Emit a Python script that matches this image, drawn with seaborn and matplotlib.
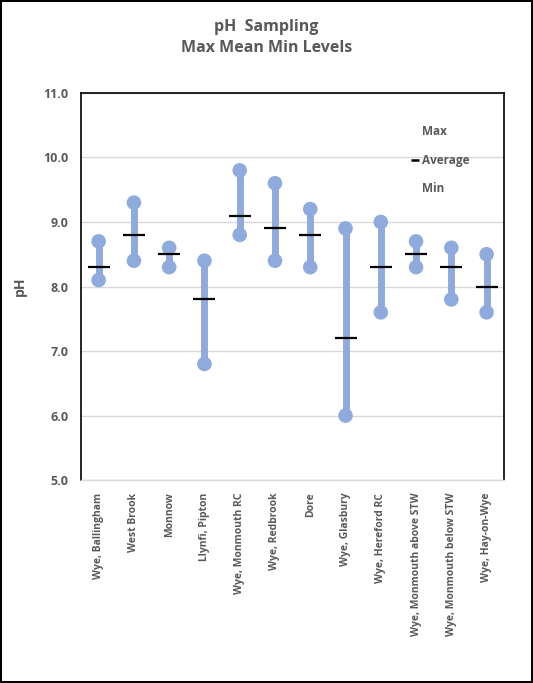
import pandas as pd
import numpy as np
import matplotlib.pyplot as plt
import seaborn as sns
from matplotlib.lines import Line2D

# pH values per sampling site
sites = ["Wye, Ballingham", "West Brook", "Monnow", "Llynfi, Pipton",
         "Wye, Monmouth RC", "Wye, Redbrook", "Dore", "Wye, Glasbury",
         "Wye, Hereford RC", "Wye, Monmouth above STW",
         "Wye, Monmouth below STW", "Wye, Hay-on-Wye"]
ph_max = [8.7, 9.3, 8.6, 8.4, 9.8, 9.6, 9.2, 8.9, 9.0, 8.7, 8.6, 8.5]
ph_mean = [8.3, 8.8, 8.5, 7.8, 9.1, 8.9, 8.8, 7.2, 8.3, 8.5, 8.3, 8.0]
ph_min = [8.1, 8.4, 8.3, 6.8, 8.8, 8.4, 8.3, 6.0, 7.6, 8.3, 7.8, 7.6]

df = pd.DataFrame({"Site": sites, "Max": ph_max, "Average": ph_mean, "Min": ph_min})

sns.set_style("white")
plt.rcParams['font.family'] = ['Open Sans', 'DejaVu Sans']

blue = "#8FAADC"
grey = "#595959"

fig = plt.figure(figsize=(5.33, 6.83), dpi=100)
fig.patch.set_edgecolor("black")
fig.patch.set_linewidth(1.5)
ax = fig.add_axes([0.152, 0.297, 0.794, 0.567])

# hi-lo lines
ax.vlines(np.arange(len(df)), df["Min"], df["Max"], color=blue, linewidth=5, zorder=2)
sns.scatterplot(data=df, x="Site", y="Max", ax=ax, color=blue, s=110, edgecolor="none", zorder=3)
sns.scatterplot(data=df, x="Site", y="Min", ax=ax, color=blue, s=110, edgecolor="none", zorder=3)
sns.scatterplot(data=df, x="Site", y="Average", ax=ax, color="black", marker="_", s=260,
                linewidth=1.6, zorder=4)

ax.set_xlim(-0.5, len(df) - 0.5)
ax.set_ylim(5.0, 11.0)
ax.set_yticks(np.arange(5.0, 11.1, 1.0))
ax.set_yticklabels([f"{v:.1f}" for v in np.arange(5.0, 11.1, 1.0)],
                   fontsize=9, fontweight="bold", color=grey)
ax.set_xticks(range(len(df)))
ax.set_xticklabels(sites, rotation=90, fontsize=7.5, fontweight="bold", color=grey,
                   va="top", ha="center")
ax.tick_params(axis="both", length=0, pad=9)
ax.set_xlabel("")
ax.set_ylabel("pH", fontsize=10, fontweight="bold", color=grey, labelpad=12)
ax.grid(axis="y", color="#D9D9D9", linewidth=1)
ax.set_axisbelow(True)
for side in ["left", "top", "right"]:
    ax.spines[side].set_color("black")
    ax.spines[side].set_linewidth(1.2)
ax.spines["bottom"].set_color("#D9D9D9")
ax.spines["bottom"].set_linewidth(1)

handles = [Line2D([], [], linestyle="none"),
           Line2D([], [], linestyle="none", marker="_", color="black", markersize=6,
                  markeredgewidth=1.8),
           Line2D([], [], linestyle="none")]
leg = ax.legend(handles, ["Max", "Average", "Min"], loc="center", bbox_to_anchor=(0.85, 0.826),
                frameon=False, fontsize=8.5, handlelength=0.5, handletextpad=0.35,
                labelspacing=1.3)
for t in leg.get_texts():
    t.set_color(grey)
    t.set_fontweight("bold")

fig.text(0.5, 0.961, "pH  Sampling", ha="center", va="center", fontsize=11.5,
         fontweight="bold", color=grey)
fig.text(0.5, 0.930, "Max Mean Min Levels", ha="center", va="center", fontsize=11.5,
         fontweight="bold", color=grey)

plt.savefig("out.png", dpi=100)
